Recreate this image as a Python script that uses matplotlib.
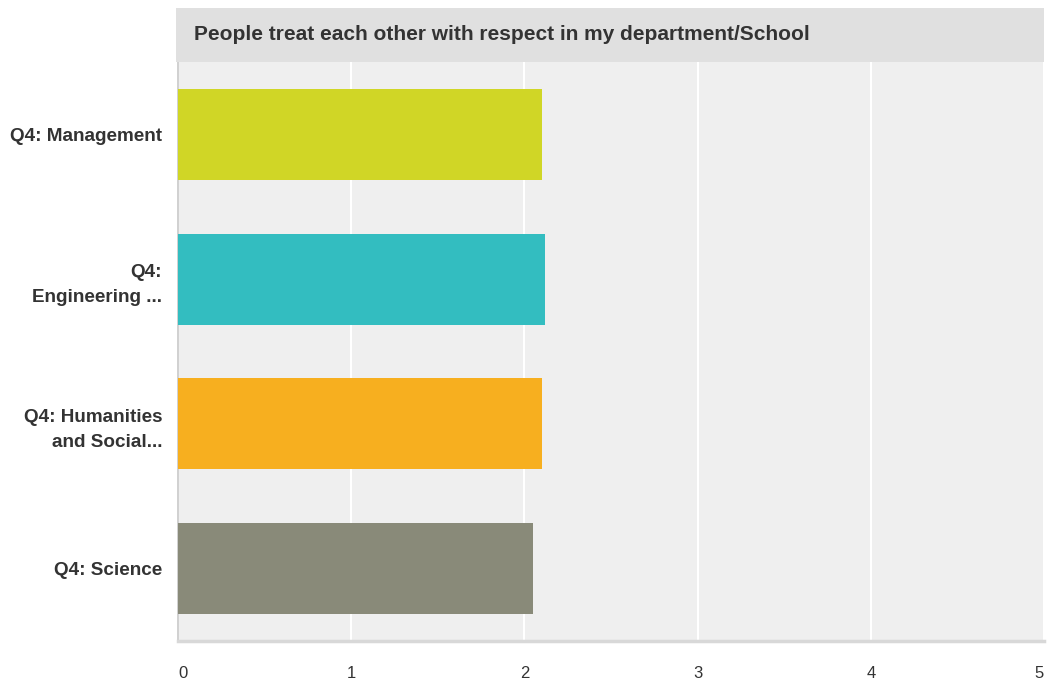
import matplotlib
matplotlib.use('Agg')
import matplotlib.pyplot as plt
import matplotlib.patches as patches

categories = ['Q4: Management', 'Q4:\nEngineering ...', 'Q4: Humanities\nand Social...', 'Q4: Science']
values = [2.10, 2.12, 2.10, 2.05]
colors = ['#d0d626', '#33bdc0', '#f7af1f', '#898a79']
xticks = [0, 1, 2, 3, 4, 5]
title = 'People treat each other with respect in my department/School'

plt.rcParams['font.family'] = ['Liberation Sans', 'DejaVu Sans']

W, H = 1050, 688
fig = plt.figure(figsize=(W / 100, H / 100), dpi=100)
ax = fig.add_axes([178 / W, 47 / H, (1044 - 178) / W, (626 - 47) / H])
ax.set_facecolor('#efefef')

# title band
fig.patches.append(patches.Rectangle((176 / W, (H - 62) / H), (1044 - 176) / W, 54 / H,
                                     transform=fig.transFigure, facecolor='#e0e0e0',
                                     edgecolor='none', zorder=0))
fig.text(194 / W, (H - 34) / H, title, fontsize=15, fontweight='bold',
         color='#333333', va='center', ha='left')

ypos = list(range(len(categories)))
ax.barh(ypos, values, height=0.63, color=colors, zorder=3)
ax.set_ylim(len(categories) - 0.5, -0.5)
ax.set_xlim(0, 5)
ax.set_xticks(xticks)
ax.set_xticklabels([str(t) for t in xticks], fontsize=12, color='#333333')
labs = ax.get_xticklabels()
labs[0].set_ha('left')
labs[-1].set_ha('right')
ax.set_yticks(ypos)
ax.set_yticklabels(categories, fontsize=13.6, fontweight='bold', color='#333333',
                   linespacing=1.6)
ax.tick_params(axis='both', length=0)
ax.tick_params(axis='x', pad=18)
ax.tick_params(axis='y', pad=11.5)
ax.grid(axis='x', color='white', linewidth=1.5, zorder=1)
ax.set_axisbelow(True)

for s in ['top', 'right']:
    ax.spines[s].set_visible(False)
ax.spines['left'].set_color('#c8c8c8')
ax.spines['left'].set_linewidth(1.2)
ax.spines['bottom'].set_color('#d8d8d8')
ax.spines['bottom'].set_linewidth(2.5)

fig.savefig('out.png', dpi=100)
